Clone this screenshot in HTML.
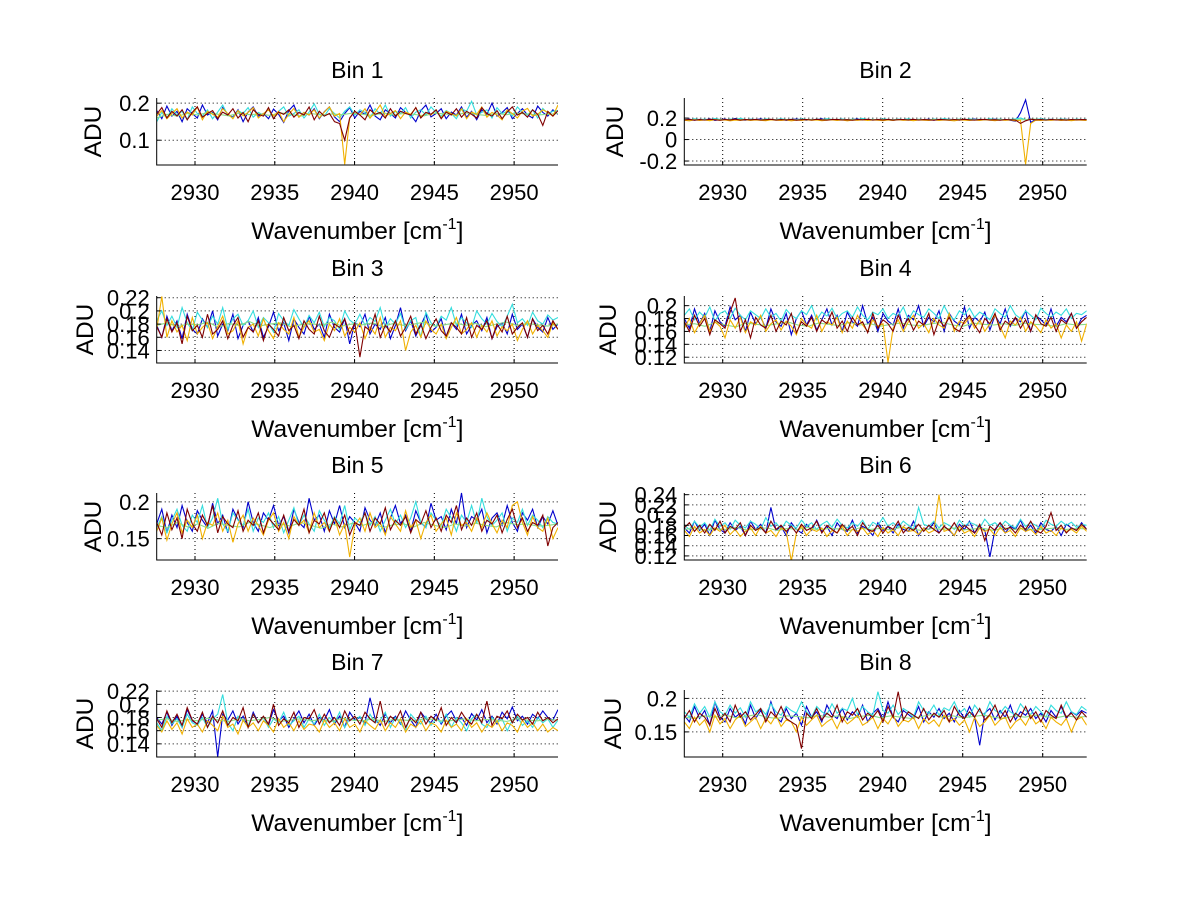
<!DOCTYPE html>
<html><head><meta charset="utf-8"><style>
html,body{margin:0;padding:0;background:#fff;}
svg{display:block;font-family:"Liberation Sans",Arial,sans-serif;}
</style></head><body>
<svg id="fig" width="1200" height="901" viewBox="0 0 1200 901" xmlns="http://www.w3.org/2000/svg"></svg>
<script>
const xTicks = [2930, 2935, 2940, 2945, 2950];
const xRange = [2927.6, 2952.75];
const seriesColors = ["#0000cc", "#33dddd", "#88dd88", "#f0b000", "#800000"];

// Bin 1
const bin1Blue = [180,158,192,165,178,150,185,172,160,195,168,175,155,188,170,162,182,150,176,190,165,172,158,184,170,148,180,195,162,175,168,185,158,177,190,163,150,172,188,160,178,170,195,165,155,182,172,160,188,175,168,150,180,195,163,172,185,158,176,168,190,162,178,155,182,170,200,165,175,188,158,172,185,168,160,192,175,165,182,170];
const bin1Cyan = [150,175,160,185,168,178,155,190,172,165,182,158,176,195,168,160,180,172,188,162,175,168,184,158,178,190,165,172,182,160,176,198,170,165,185,172,160,178,190,168,182,175,160,185,170,195,165,178,172,188,160,176,182,168,190,175,165,180,172,158,185,178,205,168,175,182,160,188,172,178,165,190,175,168,182,160,186,172,178,180];
const bin1Green = [160,170,165,172,168,175,170,166,173,169,171,167,174,170,165,172,168,171,169,173,170,167,174,168,172,170,166,173,171,168,174,170,167,172,169,173,171,168,170,172];
const bin1Orange = [165,180,158,172,185,160,176,168,190,155,178,170,162,185,172,158,180,166,175,188,160,172,182,165,178,150,170,186,162,175,168,182,160,176,190,165,172,35,160,178,168,185,160,175,195,165,172,180,158,176,170,188,162,175,168,182,160,178,172,165,185,158,176,170,190,162,175,168,155,182,172,160,178,186,165,170,182,175,165,195];
const bin1Red = [170,188,160,178,165,182,155,175,190,162,172,180,158,176,168,185,160,175,150,182,170,165,188,158,176,170,182,162,175,168,190,155,178,165,172,150,145,100,160,178,168,155,182,170,175,160,185,165,178,172,168,188,160,175,170,182,158,176,168,185,162,178,170,160,188,172,165,180,158,176,190,168,175,162,182,170,140,178,165,180];
const bin1YTicks = [0.1, 0.2];
// Bin 2
const bin2Blue = [185,190,180,188,183,192,178,186,190,182,196,184,180,189,185,192,181,187,183,190,179,186,191,184,180,188,185,193,182,187,184,190,180,186,192,183,188,181,186,190,184,179,188,185,191,182,186,184,190,180,187,183,189,185,181,188,184,191,182,186,185,190,183,188,180,170,250,370,160,186,190,183,188,185,181,189,184,187,182,186];
const bin2Cyan = [188,182,193,186,190,184,195,188,183,191,186,198,185,190,187,183,192,188,185,193,186,189,184,192,187,183,190,185,194,188,186,191,184,190,187,196,185,189,183,192,188,185,190,186,193,184,189,187,183,191,186,194,188,185,190,184,192,187,189,185,193,186,190,184,188,192,200,185,190,187,193,186,189,185,191,188,184,190,187,189];
const bin2Green = [185,187,183,186,184,188,185,182,187,184,186,183,188,185,187,184,186,183,185,188,184,186,183,187,185,184,186,188,183,185,187,184,186,185,190,180,185,187,184,186];
const bin2Orange = [180,175,184,178,182,176,186,179,183,175,181,178,185,177,182,179,176,184,180,178,183,175,181,177,185,179,182,176,180,184,178,182,175,181,179,184,177,183,180,176,182,178,185,179,181,176,183,180,178,184,177,182,179,175,183,180,177,182,178,185,180,176,182,179,183,175,180,-230,150,180,177,182,179,184,178,181,176,183,180,178];
const bin2Red = [183,188,180,186,182,189,184,180,187,183,190,181,186,184,188,182,185,189,181,186,183,188,180,185,187,182,189,184,181,186,188,183,185,180,187,184,189,182,186,183,188,181,185,187,183,189,182,186,184,180,188,185,182,187,183,189,184,181,186,188,183,185,180,187,184,182,150,175,190,184,186,182,188,183,185,181,187,184,186,185];
const bin2YTicks = [-0.2, 0, 0.2];
// Bin 3
const bin3Blue = [178,160,192,170,185,158,195,172,165,188,175,200,162,180,170,195,158,178,185,168,190,160,176,198,170,182,155,188,175,165,192,172,180,160,195,175,168,188,150,182,176,195,165,180,172,190,158,178,205,170,185,162,178,195,168,175,188,160,182,172,195,165,178,185,170,190,158,176,182,165,195,172,180,160,188,175,168,190,172,180];
const bin3Cyan = [185,200,178,192,175,205,182,170,198,186,175,192,180,205,172,188,195,178,185,200,175,190,182,168,196,185,178,202,188,175,193,182,198,176,190,185,172,200,186,180,195,178,190,184,205,175,188,180,196,172,185,190,160,198,182,176,192,186,205,178,190,182,175,200,188,180,196,184,176,192,210,182,188,178,198,185,180,194,186,190];
const bin3Green = [178,182,176,180,179,183,175,181,178,184,177,180,182,176,179,181,178,183,177,180,179,182,176,181,178,180,183,177,179,182,178,181,176,180,183,178,181,179,177,180];
const bin3Orange = [172,222,160,185,168,178,155,190,165,175,182,158,176,192,165,170,185,150,175,180,162,188,170,158,182,172,165,190,160,176,185,168,172,155,180,170,188,162,175,168,182,158,176,165,190,160,175,170,185,140,168,178,160,185,172,165,180,158,175,190,165,172,182,160,178,168,185,162,176,170,180,155,172,185,165,178,170,160,182,172];
const bin3Red = [176,160,188,168,182,150,192,170,178,160,195,165,172,185,158,178,190,160,175,168,185,155,180,172,162,190,170,178,158,185,172,165,192,170,160,180,175,188,165,182,130,176,170,195,160,178,168,185,162,175,192,165,180,158,175,188,170,162,182,175,165,190,160,178,172,185,158,180,168,192,165,175,182,160,188,170,178,165,185,172];
const bin3YTicks = [0.14, 0.16, 0.18, 0.2, 0.22];
// Bin 4
const bin4Blue = [180,165,195,172,188,160,192,175,168,198,178,185,160,190,172,182,165,195,175,168,188,155,180,192,170,185,162,178,195,170,185,160,190,175,168,200,172,182,160,188,176,170,195,165,185,178,200,168,182,175,192,160,188,176,170,198,165,182,175,190,162,185,172,195,168,180,175,192,160,185,178,170,195,168,182,175,188,165,180,185];
const bin4Cyan = [185,195,178,190,182,198,176,188,192,180,196,185,178,192,186,180,195,182,188,176,194,185,180,192,186,200,178,190,184,196,180,188,192,182,198,185,178,190,186,195,180,188,184,198,178,192,186,182,195,188,180,200,185,178,192,186,196,182,190,185,178,195,188,182,200,186,180,192,185,178,196,188,182,190,185,195,180,188,186,192];
const bin4Green = [170,172,168,174,170,167,173,171,169,172,175,170,168,173,171,169,174,170,172,168,171,173,170,169,172,174,170,168,173,171,170,172,169,173,171,170,168,172,170,171];
const bin4Orange = [165,180,158,172,185,160,175,168,150,178,165,182,158,175,170,185,160,172,178,162,176,168,155,180,170,165,185,160,175,170,182,158,176,165,185,170,160,178,168,172,112,165,178,160,175,185,165,172,158,180,170,165,188,160,176,172,182,165,178,160,172,185,168,150,176,170,182,160,175,168,158,178,165,172,150,170,160,175,145,172];
const bin4Red = [175,160,185,168,180,155,178,172,165,190,212,160,178,150,182,170,165,185,160,176,170,188,158,175,168,182,160,178,172,190,165,176,160,182,170,175,158,188,165,178,172,160,185,168,180,162,176,170,188,155,178,168,182,165,160,176,185,170,158,180,172,188,162,176,170,182,165,178,160,186,172,168,182,160,178,172,188,165,175,182];
const bin4YTicks = [0.12, 0.14, 0.16, 0.18, 0.2];
// Bin 5
const bin5Blue = [170,190,158,182,165,195,172,160,188,175,165,198,170,182,158,190,176,165,200,172,160,185,175,195,168,180,158,190,172,165,205,175,182,160,188,170,195,165,180,172,160,192,175,168,185,158,178,195,170,182,160,188,172,165,198,175,180,162,190,170,212,165,180,175,190,158,178,185,168,195,172,160,185,175,190,165,180,170,188,168];
const bin5Cyan = [165,180,158,175,190,168,160,182,172,195,165,178,205,170,160,185,175,168,190,160,178,172,185,165,180,158,175,192,168,182,170,160,188,175,165,180,170,195,162,178,172,185,168,180,160,175,190,170,182,165,178,200,172,165,185,175,168,190,178,160,182,172,195,170,205,180,168,175,185,160,178,172,190,168,182,175,165,180,172,170];
const bin5Green = [168,165,172,166,170,164,171,168,166,172,169,165,170,167,172,168,164,170,166,171,168,172,165,169,170,166,172,168,165,170,167,171,168,166,172,169,170,167,168,170];
const bin5Orange = [160,178,148,170,185,158,175,165,182,150,172,168,185,160,175,145,170,182,160,178,168,155,175,185,160,172,150,180,168,175,158,185,165,172,160,178,155,170,125,168,178,160,185,165,172,155,180,170,160,188,165,175,150,172,182,160,170,178,155,185,168,172,160,178,165,185,170,158,175,165,195,200,172,155,180,165,160,178,150,165];
const bin5Red = [172,155,185,162,178,150,190,170,160,182,168,195,158,180,170,165,188,160,175,168,185,158,178,170,162,182,160,176,168,190,158,175,170,185,160,178,165,182,155,172,168,185,160,178,170,192,162,175,168,180,158,176,170,188,165,178,160,182,172,195,162,178,168,185,160,175,170,182,158,176,190,165,178,160,172,168,182,140,165,172];
const bin5YTicks = [0.15, 0.2];
// Bin 6
const bin6Blue = [175,165,188,170,182,160,190,172,165,185,170,178,160,188,172,182,165,215,170,178,160,185,172,165,182,170,190,168,178,160,185,172,168,190,165,178,172,160,185,170,178,165,182,172,168,188,160,175,172,185,165,178,170,160,182,172,188,165,178,170,118,172,185,165,178,172,190,168,180,165,185,172,168,178,160,182,175,170,185,172];
const bin6Cyan = [180,172,188,176,185,170,192,178,185,172,190,180,175,188,182,172,195,178,185,172,188,180,175,190,178,185,172,182,188,176,192,180,175,185,178,190,172,186,180,195,178,185,176,188,180,172,215,182,178,188,175,185,180,172,190,178,186,182,175,192,180,185,176,188,180,175,192,178,185,180,172,190,182,178,188,180,186,176,182,180];
const bin6Green = [172,175,170,174,172,176,171,173,175,170,174,172,176,171,174,173,170,175,172,174,171,176,173,170,174,172,175,171,173,174,170,175,172,174,171,173,175,172,174,173];
const bin6Orange = [170,158,178,165,172,160,175,168,180,162,172,158,168,175,160,178,165,170,158,175,168,110,165,178,160,172,168,175,158,170,165,178,160,172,168,175,162,170,158,176,165,172,160,178,168,170,162,175,165,170,240,168,172,160,178,165,170,158,175,168,172,160,176,165,170,158,175,168,172,162,178,165,170,160,175,168,172,165,178,168];
const bin6Red = [175,185,168,180,165,182,170,188,165,178,172,185,160,180,170,176,165,188,172,180,168,178,165,182,170,175,188,165,180,172,165,182,170,178,160,185,172,168,180,165,178,172,188,165,176,170,182,168,180,172,165,178,170,185,168,180,172,165,182,150,178,170,185,172,176,165,180,172,188,170,165,178,205,170,180,165,175,170,182,172];
const bin6YTicks = [0.12, 0.14, 0.16, 0.18, 0.2, 0.22, 0.24];
// Bin 7
const bin7Blue = [180,170,188,168,182,165,192,175,170,185,172,190,120,185,176,190,170,182,165,188,172,180,168,192,175,182,165,178,190,172,185,168,180,176,192,170,182,165,188,176,180,172,210,178,168,185,172,182,170,190,176,165,188,178,172,185,170,182,190,175,180,168,186,176,192,172,182,170,188,178,196,175,182,170,185,178,190,180,176,192];
const bin7Cyan = [172,160,182,170,178,165,185,172,168,180,165,178,185,215,172,160,182,175,168,185,172,180,165,178,172,188,168,175,182,165,178,170,185,168,180,172,188,165,178,175,182,168,185,172,176,188,165,180,172,160,185,176,170,182,168,178,172,185,165,180,172,160,178,185,170,165,180,172,178,160,176,182,168,175,165,180,172,178,165,176];
const bin7Green = [176,178,174,177,175,179,176,174,178,175,177,180,174,176,178,175,177,174,179,176,175,178,174,177,176,175,178,177,174,176,178,175,177,176,174,178,176,175,177,176];
const bin7Orange = [168,158,175,162,172,155,178,165,170,158,175,168,160,182,165,170,155,176,165,172,160,175,168,158,178,165,172,160,175,162,170,168,158,176,165,172,160,178,165,170,158,175,168,162,176,160,172,165,178,158,170,165,175,160,172,168,158,176,165,170,160,178,165,172,158,170,165,175,160,172,168,158,176,165,172,160,170,158,165,160];
const bin7Red = [178,165,190,172,185,168,195,176,170,188,165,182,172,190,168,180,175,195,165,185,172,182,170,200,168,178,172,188,165,180,178,192,170,185,172,180,168,190,175,182,170,188,178,172,205,168,182,175,190,165,180,172,188,170,182,175,195,168,180,172,188,176,170,185,172,205,168,182,178,190,172,185,176,180,170,188,175,180,172,178];
const bin7YTicks = [0.14, 0.16, 0.18, 0.2, 0.22];
// Bin 8
const bin8Blue = [175,165,188,170,182,160,195,172,165,185,172,178,162,190,170,182,168,195,172,165,185,170,178,160,188,172,180,165,190,176,170,185,168,180,172,190,165,178,185,170,195,172,165,182,176,170,188,165,180,172,185,170,178,165,182,170,188,172,130,178,185,168,182,172,190,168,180,175,185,170,178,165,182,172,188,170,180,175,182,178];
const bin8Cyan = [180,172,192,178,188,172,195,180,175,190,178,186,172,195,180,185,176,192,180,175,188,182,178,195,180,172,188,180,176,192,178,185,182,200,176,188,180,175,210,182,178,190,176,185,180,172,195,182,178,190,175,186,182,195,178,185,172,190,180,176,195,182,178,188,180,175,192,182,176,188,180,172,190,182,178,195,180,176,188,182];
const bin8Green = [172,170,174,172,175,171,173,176,172,170,174,173,171,175,172,174,170,173,175,171,174,172,170,173,176,172,174,171,173,175,172,170,174,172,175,173,171,174,172,173];
const bin8Orange = [165,155,172,160,168,150,175,162,170,155,168,175,158,165,172,155,170,162,175,158,168,165,150,172,160,168,175,158,165,170,155,172,162,168,175,160,165,172,155,170,162,175,158,168,165,172,155,170,162,168,158,175,165,170,160,168,150,172,158,165,175,160,168,172,155,165,170,160,175,162,168,155,172,165,160,170,150,168,172,160];
const bin8Red = [170,182,165,178,172,160,185,168,178,165,190,172,180,168,176,185,165,180,172,188,170,165,160,125,178,170,185,168,178,172,190,165,180,175,185,168,178,172,182,165,188,172,210,168,180,175,170,185,168,178,172,182,165,188,175,170,180,172,185,168,176,190,170,182,165,178,172,188,170,180,165,182,175,170,190,172,178,168,180,172];
const bin8YTicks = [0.15, 0.2];

const NS = "http://www.w3.org/2000/svg";
const svg = document.getElementById("fig");
function mk(tag, attrs, parent) {
  const e = document.createElementNS(NS, tag);
  for (const k in attrs) e.setAttribute(k, attrs[k]);
  (parent || svg).appendChild(e);
  return e;
}
const panels = [
  {t:"Bin 1", col:0, row:0, y:[0.033,0.214], yt:bin1YTicks, s:[bin1Blue,bin1Cyan,bin1Green,bin1Orange,bin1Red], lx:93},
  {t:"Bin 2", col:1, row:0, y:[-0.237,0.387], yt:bin2YTicks, s:[bin2Blue,bin2Cyan,bin2Green,bin2Orange,bin2Red], lx:615},
  {t:"Bin 3", col:0, row:1, y:[0.121,0.2226], yt:bin3YTicks, s:[bin3Blue,bin3Cyan,bin3Green,bin3Orange,bin3Red], lx:85},
  {t:"Bin 4", col:1, row:1, y:[0.111,0.215], yt:bin4YTicks, s:[bin4Blue,bin4Cyan,bin4Green,bin4Orange,bin4Red], lx:608},
  {t:"Bin 5", col:0, row:2, y:[0.121,0.212], yt:bin5YTicks, s:[bin5Blue,bin5Cyan,bin5Green,bin5Orange,bin5Red], lx:93},
  {t:"Bin 6", col:1, row:2, y:[0.112,0.2433], yt:bin6YTicks, s:[bin6Blue,bin6Cyan,bin6Green,bin6Orange,bin6Red], lx:608},
  {t:"Bin 7", col:0, row:3, y:[0.120,0.2218], yt:bin7YTicks, s:[bin7Blue,bin7Cyan,bin7Green,bin7Orange,bin7Red], lx:85},
  {t:"Bin 8", col:1, row:3, y:[0.1125,0.2126], yt:bin8YTicks, s:[bin8Blue,bin8Cyan,bin8Green,bin8Orange,bin8Red], lx:613}
];
const colL = [156.7, 684.3], colR = [558, 1086.7];
const rowT = [98, 296, 493, 690], H = 67;
const seriesNames = ["blue","cyan","green","orange","darkred"];

panels.forEach((p, pi) => {
  const L = colL[p.col], R = colR[p.col], T = rowT[p.row], B = T + H;
  const g = mk("g", {});
  
  
  const xs = v => L + (v - xRange[0]) / (xRange[1] - xRange[0]) * (R - L);
  const ys = v => B - (v - p.y[0]) / (p.y[1] - p.y[0]) * (B - T);
  const clip = mk("clipPath", {id:"clip"+pi}, g);
  mk("rect", {x:L, y:T-1, width:R-L, height:H+1}, clip);
  xTicks.forEach(v => {
    const l = mk("line", {x1:xs(v), x2:xs(v), y1:T, y2:B, stroke:"#000", "stroke-width":1, "stroke-dasharray":"1,3"}, g);
    
    
  });
  p.yt.forEach(v => {
    const l = mk("line", {x1:L, x2:R, y1:ys(v), y2:ys(v), stroke:"#000", "stroke-width":1, "stroke-dasharray":"1,3"}, g);
    
    
  });
  const dg = mk("g", {"clip-path":"url(#clip"+pi+")"}, g);
  p.s.forEach((arr, si) => {
    const n = arr.length;
    const pts = arr.map((v, i) => {
      const wn = xRange[0] + i * (xRange[1] - xRange[0]) / (n - 1);
      return xs(wn).toFixed(1) + "," + ys(v / 1000).toFixed(1);
    }).join(" ");
    const pl = mk("polyline", {points:pts, fill:"none", stroke:seriesColors[si], "stroke-width":1.1}, dg);
    
    
  });
  const ax = mk("path", {d:`M${L},${T} V${B} H${R}`, fill:"none", stroke:"#000", "stroke-width":1}, g);
  
  
  xTicks.forEach(v => {
    mk("line", {x1:xs(v), x2:xs(v), y1:B, y2:B-4, stroke:"#000"}, g);
    const t = mk("text", {x:xs(v), y:B+35, "text-anchor":"middle", "font-size":22}, g);
    t.textContent = v;
    
    
  });
  p.yt.forEach(v => {
    mk("line", {x1:L, x2:L+4, y1:ys(v), y2:ys(v), stroke:"#000"}, g);
    const t = mk("text", {x:L-7, y:ys(v)+8, "text-anchor":"end", "font-size":22}, g);
    t.textContent = String(v);
    
    
  });
  const ti = mk("text", {x:(L+R)/2, y:T-20, "text-anchor":"middle", "font-size":23}, g);
  ti.textContent = p.t;
  
  
  const xl = mk("text", {x:(L+R)/2, y:B+74, "text-anchor":"middle", "font-size":24.5}, g);
  
  
  xl.appendChild(document.createTextNode("Wavenumber [cm"));
  const sup = mk("tspan", {dy:-10, "font-size":16}, xl);
  sup.textContent = "-1";
  const rb = mk("tspan", {dy:10}, xl);
  rb.textContent = "]";
  const cy = (T+B)/2;
  const yl = mk("text", {x:p.lx, y:cy, "text-anchor":"middle", "font-size":24.5, transform:`rotate(-90 ${p.lx} ${cy}) translate(0 8)`}, g);
  yl.textContent = "ADU";
  
  
});
</script>
</body></html>
